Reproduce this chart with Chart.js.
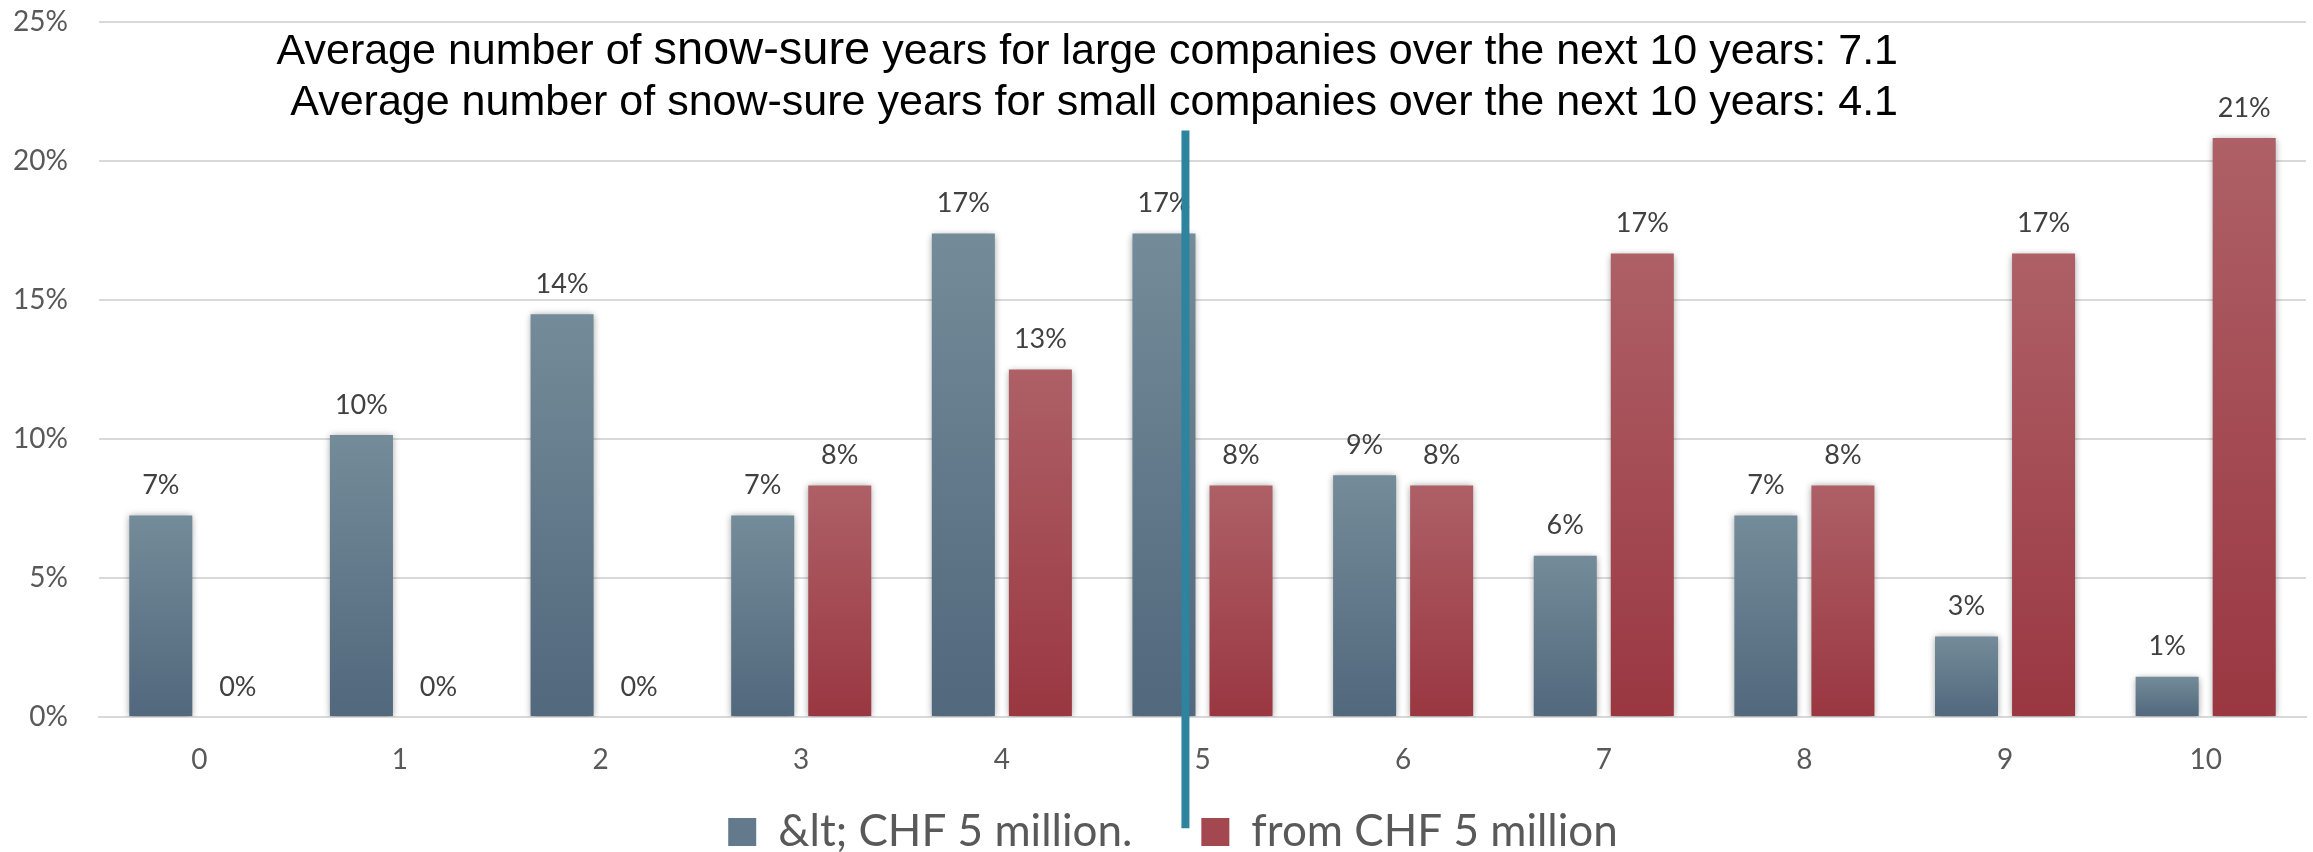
<!DOCTYPE html>
<html>
<head>
<meta charset="utf-8">
<title>Snow-sure years</title>
<script src="https://cdn.jsdelivr.net/npm/chart.js@4.4.0/dist/chart.umd.min.js"></script>
<style>
  html, body { margin: 0; padding: 0; background: #fff; }
  #wrap { width: 2313px; height: 852px; }
</style>
</head>
<body>
<div id="wrap"><canvas id="snow-chart" width="2313" height="852"></canvas></div>
<script>
// number of snow-sure years over the next 10 years (0..10)
const years = ['0', '1', '2', '3', '4', '5', '6', '7', '8', '9', '10'];
// share of companies, in percent
const smallCompanies = [7.25, 10.14, 14.49, 7.25, 17.39, 17.39, 8.70, 5.80, 7.25, 2.90, 1.45];
const largeCompanies = [0, 0, 0, 8.33, 12.5, 8.33, 8.33, 16.67, 8.33, 16.67, 20.83];
const seriesNames = ['&lt; CHF 5 million.', 'from CHF 5 million'];
const yTicks = [0, 5, 10, 15, 20, 25];
const headline = [
  ['Average number of ', 'snow-sure', ' years for large companies over the next 10 years: 7.1'],
  ['Average number of snow-sure years for small companies over the next 10 years: 4.1']
];
// divider line position on the category axis and its vertical extent (in %)
const dividerAt = 4.915;
const dividerSpan = [-4, 21.1];

const UI_FONT = 'Lato, "Open Sans", sans-serif';

(function(){
  const canvas = document.getElementById('snow-chart');

  // vertical gradient per bar, light at the top, darker at the base
  function barFill(top, bottom){
    return function(c){
      const chart = c.chart;
      const ys = chart.scales && chart.scales.y;
      if (!ys || c.type !== 'data') return bottom;
      const y0 = ys.getPixelForValue(c.raw);
      const y1 = ys.getPixelForValue(0);
      if (!isFinite(y0) || !isFinite(y1) || Math.abs(y1 - y0) < 1) return bottom;
      const g = chart.ctx.createLinearGradient(0, y0, 0, y1);
      g.addColorStop(0, top);
      g.addColorStop(1, bottom);
      return g;
    };
  }

  // soft grey halo round the bars
  const barHalo = {
    id: 'barHalo',
    beforeDatasetsDraw(chart){
      const ctx = chart.ctx;
      ctx.save();
      ctx.shadowColor = 'rgba(0,0,0,0.4)';
      ctx.shadowBlur = 7;
      ctx.shadowOffsetX = 0;
      ctx.shadowOffsetY = 1;
    },
    afterDatasetsDraw(chart){
      chart.ctx.restore();
    }
  };

  // percentage above every bar
  const valueLabels = {
    id: 'valueLabels',
    afterDatasetsDraw(chart){
      const ctx = chart.ctx;
      ctx.save();
      ctx.font = '27px ' + UI_FONT;
      ctx.fillStyle = '#404040';
      ctx.textAlign = 'center';
      ctx.textBaseline = 'middle';
      chart.data.datasets.forEach((ds, di) => {
        const meta = chart.getDatasetMeta(di);
        meta.data.forEach((bar, i) => {
          ctx.fillText(Math.round(ds.data[i]) + '%', bar.x, bar.y - 30);
        });
      });
      ctx.restore();
    }
  };

  // two-line note in the upper part of the plot
  const headlineText = {
    id: 'headlineText',
    afterDatasetsDraw(chart){
      const ctx = chart.ctx;
      const right = 1898;
      const baselines = [64, 115];
      ctx.save();
      ctx.fillStyle = '#000';
      ctx.textBaseline = 'alphabetic';
      ctx.textAlign = 'left';
      headline.forEach((parts, li) => {
        const fonts = parts.map(p => (p === 'snow-sure' && parts.length > 1) ? '47px "Liberation Sans", Arial, sans-serif' : '43px "Liberation Sans", Arial, sans-serif');
        let total = 0;
        const widths = parts.map((p, k) => { ctx.font = fonts[k]; const w = ctx.measureText(p).width; total += w; return w; });
        let x = right - total;
        parts.forEach((p, k) => {
          ctx.font = fonts[k];
          ctx.fillText(p, x, baselines[li]);
          x += widths[k];
        });
      });
      ctx.restore();
    }
  };

  // teal divider line
  const divider = {
    id: 'divider',
    afterDraw(chart){
      const xs = chart.scales.x, ys = chart.scales.y;
      const x = xs.getPixelForValue(dividerAt);
      const ctx = chart.ctx;
      ctx.save();
      ctx.strokeStyle = '#2e839e';
      ctx.lineWidth = 8;
      ctx.beginPath();
      ctx.moveTo(x, ys.getPixelForValue(dividerSpan[1]));
      ctx.lineTo(x, ys.getPixelForValue(dividerSpan[0]));
      ctx.stroke();
      ctx.restore();
    }
  };

  // legend keeps its wide item spacing but starts higher up, closer to the axis labels,
  // and is nudged right so the divider falls between the two entries
  const legendLift = {
    id: 'legendLift',
    afterLayout(chart){
      const lg = chart.legend;
      if (!lg) return;
      lg.top -= 36;
      lg.bottom = chart.height;
      lg.height = lg.bottom - lg.top;
      lg.left += 20;
      lg.right += 20;
    }
  };

  const legendFills = ['#637a8c', '#a4484f'];

  new Chart(canvas.getContext('2d'), {
    type: 'bar',
    data: {
      labels: years,
      datasets: [
        {
          label: seriesNames[0],
          data: smallCompanies,
          backgroundColor: barFill('#748b99', '#51687d'),
          borderWidth: 0
        },
        {
          label: seriesNames[1],
          data: largeCompanies,
          backgroundColor: barFill('#ae6067', '#9a3741'),
          borderWidth: 0
        }
      ]
    },
    options: {
      responsive: false,
      animation: false,
      devicePixelRatio: 1,
      layout: { padding: { top: 22, right: 7, left: 0, bottom: 0 } },
      datasets: {
        bar: { categoryPercentage: 0.768, barPercentage: 0.818 }
      },
      scales: {
        x: {
          grid: { display: false, drawTicks: false },
          border: { display: true, color: '#d9d9d9', width: 2 },
          ticks: { color: '#595959', font: { family: UI_FONT, size: 28 }, padding: 26 },
          afterFit(scale){ scale.height = 60; }
        },
        y: {
          min: 0,
          max: 25,
          afterBuildTicks(scale){ scale.ticks = yTicks.map(v => ({ value: v })); },
          grid: { color: '#d9d9d9', lineWidth: 2, drawTicks: false },
          border: { display: false },
          ticks: {
            color: '#595959',
            font: { family: UI_FONT, size: 28 },
            padding: 31,
            callback: v => v + '%'
          },
          afterFit(scale){
            scale.width = 99;
            scale.paddingTop = 0;
            scale.paddingBottom = 0;
          }
        }
      },
      plugins: {
        legend: {
          position: 'bottom',
          maxHeight: 75,
          labels: {
            color: '#595959',
            font: { family: UI_FONT, size: 44 },
            boxWidth: 28,
            boxHeight: 28,
            padding: 69,
            generateLabels(chart){
              return chart.data.datasets.map((ds, i) => ({
                text: ds.label,
                fillStyle: legendFills[i],
                strokeStyle: legendFills[i],
                lineWidth: 0,
                fontColor: '#595959',
                datasetIndex: i,
                hidden: false
              }));
            }
          }
        },
        title: { display: false },
        tooltip: { enabled: false }
      }
    },
    plugins: [barHalo, valueLabels, headlineText, divider, legendLift]
  });
})();
</script>
</body>
</html>
